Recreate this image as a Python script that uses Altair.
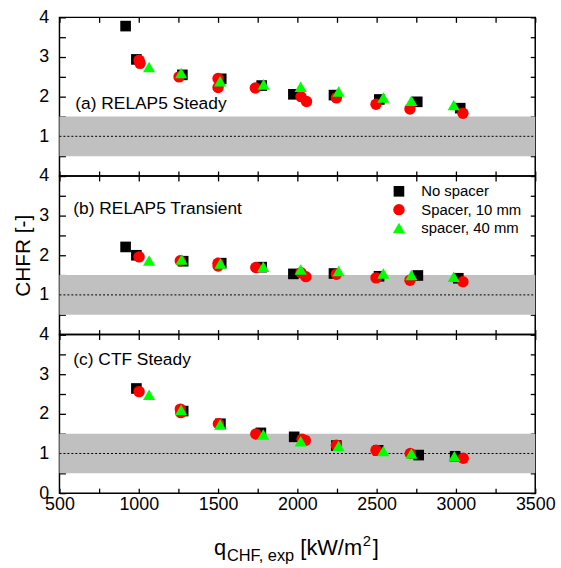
import altair as alt
import pandas as pd

# ---------------- data ----------------
series_names = ["No spacer", "Spacer, 10 mm", "spacer, 40 mm"]
series_colors = ["#000000", "#ff0000", "#00ff00"]
series_shapes = ["square", "circle", "triangle-up"]
series_sizes = [115, 150, 185]

panel_titles = ["(a) RELAP5 Steady", "(b) RELAP5 Transient", "(c) CTF Steady"]

# (a) RELAP5 Steady
q_a_none = [917, 985, 1275, 1520, 1775, 1975, 2231, 2517, 2756, 3027]
r_a_none = [3.78, 2.94, 2.55, 2.45, 2.28, 2.06, 2.04, 1.93, 1.87, 1.71]
q_a_10 = [1002, 1008, 1254, 1500, 1500, 1735, 2023, 2058, 2246, 2496, 2710, 3044]
r_a_10 = [2.92, 2.84, 2.50, 2.46, 2.23, 2.22, 2.00, 1.88, 1.97, 1.81, 1.69, 1.58]
q_a_40 = [1065, 1267, 1513, 1787, 2021, 2260, 2542, 2719, 2986]
r_a_40 = [2.75, 2.60, 2.39, 2.31, 2.25, 2.13, 1.98, 1.90, 1.79]

# (b) RELAP5 Transient
q_b_none = [917, 985, 1280, 1520, 1775, 1975, 2231, 2515, 2760, 3015]
r_b_none = [2.21, 2.00, 1.85, 1.80, 1.70, 1.53, 1.54, 1.47, 1.49, 1.42]
q_b_10 = [1002, 1262, 1500, 1500, 1738, 2023, 2054, 2246, 2496, 2710, 3044]
r_b_10 = [1.96, 1.86, 1.80, 1.73, 1.69, 1.56, 1.46, 1.52, 1.43, 1.37, 1.33]
q_b_40 = [1065, 1270, 1515, 1785, 2021, 2260, 2542, 2719, 2986]
r_b_40 = [1.87, 1.89, 1.79, 1.71, 1.64, 1.60, 1.54, 1.50, 1.46]

# (c) CTF Steady
q_c_none = [985, 1280, 1515, 1770, 1980, 2246, 2510, 2765, 2995]
r_c_none = [2.64, 2.07, 1.75, 1.52, 1.42, 1.20, 1.08, 0.96, 0.93]
q_c_10 = [1002, 1262, 1265, 1502, 1738, 2030, 2050, 2246, 2496, 2712, 3046]
r_c_10 = [2.56, 2.12, 2.03, 1.75, 1.49, 1.36, 1.33, 1.21, 1.08, 1.00, 0.88]
q_c_40 = [1065, 1267, 1513, 1785, 2021, 2260, 2542, 2719, 2990]
r_c_40 = [2.48, 2.10, 1.73, 1.48, 1.31, 1.19, 1.06, 1.00, 0.93]

x_ticks = [500, 750, 1000, 1250, 1500, 1750, 2000, 2250, 2500, 2750, 3000, 3250, 3500]
y_ticks = [0, 0.5, 1, 1.5, 2, 2.5, 3, 3.5, 4]
band_low, band_high, ref_line = 0.5, 1.5, 1.0
x_min, x_max = 500, 3500
y_min, y_max = 0, 4

FONT = "Liberation Sans"
W, H = 480, 160
INWARD = {"expr": "-5"}
INWARD_L = {"expr": "-6"}


def make_df(qs, rs):
    rows = []
    for name, q, r in zip(series_names, qs, rs):
        for a, b in zip(q, r):
            rows.append({"q": a, "chfr": b, "series": name})
    return pd.DataFrame(rows)


xscale = alt.Scale(domain=[x_min, x_max], nice=False, zero=False)
yscale = alt.Scale(domain=[y_min, y_max], nice=False, zero=False)


def panel(df, title, tx, ty, idx):
    bottom = idx == 2
    left_label_expr = (
        "datum.value % 1 === 0 ? format(datum.value, 'd') : ''"
        if bottom
        else "datum.value % 1 === 0 && datum.value > 0 ? format(datum.value, 'd') : ''"
    )
    left_axis = alt.Axis(
        orient="left", values=y_ticks, labelExpr=left_label_expr, tickSize=INWARD_L,
        domain=False, grid=False, labelPadding=17, labelFontSize=18, labelOverlap=False,
        labelFlush=False, labelBound=False, tickColor="black", tickWidth=1.3,
        titleFontSize=21, titleFontWeight="normal", titlePadding=5, labelColor="black",
        titleColor="black", minExtent=0,
    )
    bottom_axis = alt.Axis(
        orient="bottom", values=x_ticks, tickSize=INWARD, domain=False, grid=False,
        labels=bottom, labelExpr="datum.value % 500 === 0 ? format(datum.value, 'd') : ''",
        labelPadding=8, labelFontSize=18, labelOverlap=False, labelFlush=False,
        labelBound=False, tickColor="black", tickWidth=1.3, labelColor="black", minExtent=0,
    )
    top_axis = alt.Axis(
        orient="top", values=x_ticks, tickSize=INWARD, domain=False, grid=False,
        labels=False, tickColor="black", tickWidth=1.3, minExtent=0,
    )
    right_axis = alt.Axis(
        orient="right", values=y_ticks, tickSize=INWARD, domain=False, grid=False,
        labels=False, tickColor="black", tickWidth=1.3, minExtent=0,
    )

    band_df = pd.DataFrame({"x": [x_min], "x2": [x_max], "y": [band_low], "y2": [band_high]})
    band = alt.Chart(band_df).mark_rect(color="#c0c0c0").encode(
        x=alt.X("x:Q", scale=xscale, axis=top_axis, title=None),
        x2="x2:Q",
        y=alt.Y("y:Q", scale=yscale, axis=right_axis, title=None),
        y2="y2:Q",
    )
    line_df = pd.DataFrame({"x": [x_min], "x2": [x_max], "y": [ref_line]})
    line = alt.Chart(line_df).mark_rule(color="black", strokeDash=[2, 2], strokeWidth=1).encode(
        x=alt.X("x:Q", scale=xscale, axis=None),
        x2="x2:Q",
        y=alt.Y("y:Q", scale=yscale, axis=None),
    )

    if idx == 1:
        leg = alt.Legend(
            orient="none", legendX=335, legendY=8, title=None, labelFontSize=15,
            labelFont=FONT, symbolSize=150, symbolStrokeWidth=0, rowPadding=2.5,
            labelOffset=15, padding=0, labelColor="black",
        )
    else:
        leg = None

    pts = alt.Chart(df).mark_point(filled=True, opacity=1, strokeWidth=0).encode(
        x=alt.X("q:Q", scale=xscale, axis=bottom_axis, title=None),
        y=alt.Y("chfr:Q", scale=yscale, axis=left_axis,
                title=("CHFR [-]" if idx == 1 else None)),
        color=alt.Color("series:N", scale=alt.Scale(domain=series_names, range=series_colors),
                        legend=leg),
        shape=alt.Shape("series:N", scale=alt.Scale(domain=series_names, range=series_shapes),
                        legend=leg),
        size=alt.Size("series:N", scale=alt.Scale(domain=series_names, range=series_sizes),
                      legend=None),
    )

    lab = alt.Chart(pd.DataFrame({"t": [title]})).mark_text(
        align="left", baseline="alphabetic", fontSize=17.5, font=FONT, color="black"
    ).encode(x=alt.value(tx), y=alt.value(ty), text="t:N")

    layers = [band, line, pts, lab]

    if bottom:
        parts = [
            ("q", 156, 222, 22),
            ("CHF, exp", 169, 228, 16.5),
            ("[kW/m", 243, 222, 22),
            ("2", 306, 213, 15),
            ("]", 316, 222, 22),
        ]
        for txt, px, py, fs in parts:
            layers.append(
                alt.Chart(pd.DataFrame({"t": [txt]})).mark_text(
                    align="left", baseline="alphabetic", fontSize=fs, font=FONT, color="black"
                ).encode(x=alt.value(px), y=alt.value(py), text="t:N")
            )

    return alt.layer(*layers).resolve_axis(x="independent", y="independent").properties(
        width=W, height=H
    )


pa = panel(make_df([q_a_none, q_a_10, q_a_40], [r_a_none, r_a_10, r_a_40]), panel_titles[0], 16, 92, 0)
pb = panel(make_df([q_b_none, q_b_10, q_b_40], [r_b_none, r_b_10, r_b_40]), panel_titles[1], 14, 38, 1)
pc = panel(make_df([q_c_none, q_c_10, q_c_40], [r_c_none, r_c_10, r_c_40]), panel_titles[2], 14, 31, 2)

chart = (
    alt.vconcat(pa, pb, pc, spacing=0, bounds="flush")
    .resolve_legend(color="independent", shape="independent", size="independent")
    .properties(padding={"left": 12, "top": 5, "right": 5, "bottom": 0}, background="white")
    .configure(font=FONT)
    .configure_view(stroke="black", strokeWidth=1.5)
)

chart.save("out.html", embed_options={"renderer": "svg", "actions": False})
